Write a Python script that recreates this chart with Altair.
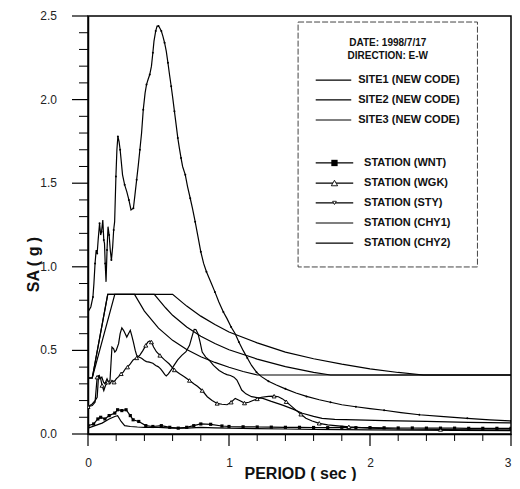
import altair as alt
import pandas as pd

# ---------------- data ----------------
# design spectra (new code)
T_SITE1 = [0, 0.03, 0.14, 0.33, 0.4, 0.5, 0.6, 0.7, 0.8, 0.9, 1.0, 1.1, 1.2, 3.0]
SA_SITE1 = [0.335, 0.335, 0.835, 0.835, 0.735, 0.633, 0.56, 0.505, 0.462, 0.428, 0.399, 0.374, 0.353, 0.353]
T_SITE2 = [0, 0.03, 0.19, 0.47, 0.55, 0.6, 0.7, 0.8, 0.9, 1.0, 1.2, 1.4, 1.6, 1.72, 3.0]
SA_SITE2 = [0.335, 0.335, 0.835, 0.835, 0.755, 0.71, 0.64, 0.585, 0.541, 0.504, 0.448, 0.403, 0.369, 0.353, 0.353]
T_SITE3 = [0, 0.03, 0.14, 0.6, 0.7, 0.8, 0.9, 1.0, 1.2, 1.4, 1.6, 1.8, 2.0, 2.2, 2.38, 3.0]
SA_SITE3 = [0.335, 0.335, 0.835, 0.835, 0.765, 0.705, 0.655, 0.61, 0.545, 0.49, 0.45, 0.418, 0.39, 0.368, 0.353, 0.353]

# recorded spectra
T_CHY1 = [0, 0.02, 0.035, 0.042, 0.05, 0.058, 0.065, 0.072, 0.082, 0.09, 0.096, 0.105, 0.112,
          0.117, 0.122, 0.128, 0.135, 0.142, 0.15, 0.158, 0.166, 0.175, 0.182, 0.189, 0.198,
          0.205, 0.212, 0.22, 0.228, 0.245, 0.26, 0.275, 0.29, 0.305, 0.322, 0.333, 0.345,
          0.357, 0.368, 0.38, 0.392, 0.405, 0.415, 0.426, 0.438, 0.45, 0.46, 0.468, 0.48, 0.49,
          0.5, 0.508, 0.52, 0.531, 0.543, 0.555, 0.567, 0.578, 0.59, 0.601, 0.613, 0.625, 0.637,
          0.648, 0.66, 0.671, 0.69, 0.706, 0.725, 0.741, 0.76, 0.78, 0.8, 0.82, 0.84, 0.87, 0.9,
          0.928, 0.96, 0.986, 1.015, 1.044, 1.07, 1.1, 1.13, 1.16, 1.195, 1.23, 1.28, 1.336,
          1.4, 1.475, 1.55, 1.64, 1.72, 1.8, 1.9, 2.0, 2.1, 2.22, 2.35, 2.5, 2.69, 2.85, 3.0]
SA_CHY1 = [0.73, 0.76, 0.82, 0.9, 1.02, 1.1, 1.08, 1.16, 1.26, 1.19, 1.21, 1.28, 1.16,
           1.14, 1.02, 0.91, 1.1, 1.24, 1.19, 1.1, 1.04, 1.12, 1.22, 1.27, 1.54,
           1.7, 1.78, 1.75, 1.7, 1.55, 1.49, 1.45, 1.4, 1.34, 1.35, 1.43, 1.52,
           1.61, 1.7, 1.8, 1.94, 2.04, 2.09, 2.12, 2.15, 2.2, 2.28, 2.35, 2.41, 2.44,
           2.44, 2.43, 2.41, 2.38, 2.34, 2.29, 2.22, 2.15, 2.08, 2.01, 1.93, 1.85, 1.77,
           1.71, 1.65, 1.6, 1.55, 1.48, 1.41, 1.35, 1.27, 1.18, 1.09, 1.02, 0.97, 0.91, 0.85,
           0.79, 0.73, 0.69, 0.64, 0.6, 0.55, 0.5, 0.455, 0.41, 0.37, 0.343, 0.315, 0.293,
           0.27, 0.245, 0.225, 0.205, 0.19, 0.175, 0.163, 0.152, 0.142, 0.128, 0.115, 0.105, 0.094, 0.085, 0.078]

T_CHY2 = [0, 0.03, 0.05, 0.065, 0.075, 0.085, 0.098, 0.11, 0.12, 0.135, 0.145, 0.156, 0.165,
          0.17, 0.182, 0.19, 0.2, 0.217, 0.228, 0.24, 0.252, 0.264, 0.275, 0.287, 0.3, 0.31,
          0.322, 0.335, 0.345, 0.36, 0.38, 0.4, 0.415, 0.435, 0.46, 0.48, 0.497, 0.515, 0.53,
          0.545, 0.555, 0.57, 0.59, 0.61, 0.636, 0.665, 0.695, 0.72, 0.74, 0.753, 0.765, 0.78,
          0.795, 0.81, 0.835, 0.858, 0.89, 0.93, 0.963, 0.985, 1.01, 1.035, 1.056, 1.075, 1.09,
          1.12, 1.16, 1.2, 1.24, 1.3, 1.38, 1.45, 1.52, 1.6, 1.66, 1.75, 1.9, 2.1, 2.4, 2.7, 3.0]
SA_CHY2 = [0.163, 0.18, 0.2, 0.22, 0.35, 0.33, 0.34, 0.31, 0.3, 0.33, 0.31, 0.32, 0.45,
           0.52, 0.51, 0.49, 0.5, 0.54, 0.6, 0.635, 0.62, 0.6, 0.58, 0.6, 0.62, 0.59,
           0.55, 0.5, 0.472, 0.46, 0.453, 0.44, 0.433, 0.43, 0.423, 0.41, 0.403, 0.39, 0.373,
           0.355, 0.347, 0.36, 0.383, 0.41, 0.443, 0.47, 0.492, 0.53, 0.59, 0.626, 0.625, 0.6,
           0.55, 0.49, 0.46, 0.443, 0.41, 0.38, 0.363, 0.355, 0.35, 0.34, 0.323, 0.29, 0.263,
           0.24, 0.223, 0.218, 0.213, 0.195, 0.173, 0.15, 0.124, 0.105, 0.094, 0.088, 0.084, 0.08, 0.075, 0.07, 0.066]

T_WGK = [0, 0.03, 0.05, 0.065, 0.08, 0.09, 0.1, 0.112, 0.124, 0.14, 0.155, 0.17, 0.185, 0.2,
         0.217, 0.235, 0.25, 0.265, 0.28, 0.3, 0.32, 0.345, 0.368, 0.39, 0.41, 0.425, 0.438,
         0.45, 0.465, 0.485, 0.51, 0.543, 0.575, 0.613, 0.65, 0.683, 0.72, 0.75, 0.776, 0.81,
         0.846, 0.88, 0.916, 0.95, 0.986, 1.015, 1.044, 1.075, 1.11, 1.14, 1.17, 1.2, 1.23,
         1.28, 1.32, 1.35, 1.38, 1.406, 1.44, 1.475, 1.51, 1.545, 1.59, 1.64, 1.7, 1.755, 1.85,
         2.0, 2.2, 2.5, 2.8, 3.0]
SA_WGK = [0.163, 0.17, 0.19, 0.34, 0.35, 0.33, 0.29, 0.26, 0.29, 0.31, 0.3, 0.32, 0.31, 0.33,
          0.343, 0.36, 0.37, 0.39, 0.4, 0.42, 0.443, 0.455, 0.472, 0.5, 0.53, 0.55, 0.556,
          0.55, 0.52, 0.492, 0.47, 0.443, 0.42, 0.383, 0.36, 0.343, 0.32, 0.3, 0.285, 0.26,
          0.223, 0.2, 0.183, 0.178, 0.175, 0.19, 0.213, 0.2, 0.185, 0.19, 0.2, 0.21, 0.22,
          0.225, 0.226, 0.223, 0.21, 0.193, 0.168, 0.143, 0.118, 0.094, 0.078, 0.064, 0.055, 0.05, 0.043,
          0.035, 0.03, 0.027, 0.025, 0.025]

T_WNT = [0, 0.04, 0.07, 0.09, 0.12, 0.15, 0.19, 0.21, 0.24, 0.27, 0.3, 0.32, 0.36, 0.41, 0.46,
         0.52, 0.58, 0.64, 0.7, 0.75, 0.8, 0.87, 0.95, 1.0, 1.1, 1.2, 1.3, 1.4, 1.5, 1.6, 1.7,
         1.8, 1.9, 2.0, 2.1, 2.2, 2.3, 2.4, 2.5, 2.6, 2.7, 2.8, 2.9, 3.0]
SA_WNT = [0.05, 0.06, 0.09, 0.1, 0.09, 0.11, 0.125, 0.145, 0.14, 0.145, 0.11, 0.085, 0.075, 0.05, 0.045,
          0.05, 0.04, 0.035, 0.04, 0.05, 0.06, 0.058, 0.048, 0.045, 0.043, 0.042, 0.041, 0.04, 0.04, 0.039, 0.038,
          0.04, 0.038, 0.038, 0.037, 0.036, 0.036, 0.035, 0.035, 0.035, 0.034, 0.034, 0.034, 0.034]

T_STY = [0, 0.05, 0.1, 0.15, 0.19, 0.21, 0.235, 0.26, 0.3, 0.35, 0.4, 0.5, 0.6, 0.7, 0.8, 0.9,
         1.0, 1.2, 1.4, 1.6, 1.8, 2.0, 2.3, 2.6, 3.0]
SA_STY = [0.035, 0.05, 0.065, 0.09, 0.105, 0.11, 0.075, 0.05, 0.045, 0.042, 0.04, 0.04, 0.035, 0.035, 0.04, 0.037,
          0.035, 0.032, 0.03, 0.028, 0.026, 0.025, 0.023, 0.022, 0.02]

X_MAJOR = [0, 1, 2, 3]
X_MINOR = [0.2, 0.4, 0.6, 0.8, 1.2, 1.4, 1.6, 1.8, 2.2, 2.4, 2.6, 2.8]
Y_MAJOR = [0, 0.5, 1, 1.5, 2, 2.5]
Y_MINOR = [0.1, 0.2, 0.3, 0.4, 0.6, 0.7, 0.8, 0.9, 1.1, 1.2, 1.3, 1.4, 1.6, 1.7, 1.8, 1.9,
           2.1, 2.2, 2.3, 2.4]

SITE_NAMES = ["SITE1 (NEW CODE)", "SITE2 (NEW CODE)", "SITE3 (NEW CODE)"]
STATION_NAMES = ["STATION (WNT)", "STATION (WGK)", "STATION (STY)", "STATION (CHY1)", "STATION (CHY2)"]
HEADER = ["DATE: 1998/7/17", "DIRECTION: E-W"]

# legend placement (in data units of the plot)
LEG_BOX = dict(T=1.49, T2=2.762, SA=0.999, SA2=2.464)
LEG_HEADER_X = 2.126
LEG_HEADER_Y = [2.338, 2.262]
LEG_SITE_Y = [2.117, 1.998, 1.878]
LEG_STATION_Y = [1.621, 1.501, 1.382, 1.262, 1.142]

# ---------------- build tables ----------------
series = [
    ("SITE1 (NEW CODE)", T_SITE1, SA_SITE1),
    ("SITE2 (NEW CODE)", T_SITE2, SA_SITE2),
    ("SITE3 (NEW CODE)", T_SITE3, SA_SITE3),
    ("STATION (CHY1)", T_CHY1, SA_CHY1),
    ("STATION (CHY2)", T_CHY2, SA_CHY2),
    ("STATION (WGK)", T_WGK, SA_WGK),
    ("STATION (WNT)", T_WNT, SA_WNT),
    ("STATION (STY)", T_STY, SA_STY),
]
rows = []
for name, ts, vs in series:
    for i, (t, v) in enumerate(zip(ts, vs)):
        rows.append({"series": name, "T": t, "SA": v, "i": i})
df = pd.DataFrame(rows)

FONT = "Liberation Sans"
W, H = 423, 418
xs = alt.Scale(domain=[0, 3], nice=False, zero=False)
ys = alt.Scale(domain=[0, 2.5], nice=False, zero=False)

common = dict(grid=False, ticks=False, domainColor="black", domainWidth=1.5,
              labelFont=FONT, labelFontSize=12, labelColor="#222", labelOverlap=False,
              labelFlush=False, titleFont=FONT, titleFontSize=16, titleFontWeight="bold",
              titleColor="#111")
x_axis = alt.Axis(values=X_MAJOR, format="d", labelPadding=23,
                  labelAlign={"condition": {"test": "datum.value >= 3", "value": "right"}, "value": "center"},
                  title="PERIOD ( sec )", titleX=212, titleY=44, titleBaseline="alphabetic",
                  **common)
y_axis = alt.Axis(values=Y_MAJOR, labels=False,
                  title="SA ( g )", titleX=-47, titleY=248, **common)

X = alt.X("T:Q", scale=xs, axis=x_axis)
Y = alt.Y("SA:Q", scale=ys, axis=y_axis)

base = alt.Chart(df)
lines = base.mark_line(color="black", strokeWidth=1.2, clip=True).encode(
    x=X, y=Y, detail="series:N")

wgk_pts = base.transform_filter(
    "datum.series == 'STATION (WGK)' && datum.i % 3 == 0"
).mark_point(shape="triangle-up", size=16, filled=True, fill="white", stroke="black",
             strokeWidth=0.9, opacity=1, clip=True).encode(x=X, y=Y)

wnt_pts = base.transform_filter("datum.series == 'STATION (WNT)'").mark_point(
    shape="square", size=10, filled=True, color="black", opacity=1, clip=True).encode(x=X, y=Y)

chy_pts = base.transform_filter(
    "datum.series == 'STATION (CHY1)' && datum.i % 2 == 0"
).mark_point(shape="circle", size=4, filled=True, color="black", opacity=1, clip=True).encode(x=X, y=Y)

# tick marks on both axes (major longer than minor)
xmaj = alt.Chart(pd.DataFrame({"T": X_MAJOR})).mark_rule(color="black", strokeWidth=1.2).encode(
    x=X, y=alt.value(H), y2=alt.value(H + 12))
xmin = alt.Chart(pd.DataFrame({"T": X_MINOR})).mark_rule(color="black", strokeWidth=1).encode(
    x=X, y=alt.value(H), y2=alt.value(H + 7))
ymaj = alt.Chart(pd.DataFrame({"SA": Y_MAJOR})).mark_rule(color="black", strokeWidth=1.2).encode(
    y=Y, x=alt.value(-16), x2=alt.value(0))
ymin = alt.Chart(pd.DataFrame({"SA": Y_MINOR})).mark_rule(color="black", strokeWidth=1).encode(
    y=Y, x=alt.value(-9), x2=alt.value(0))

# y tick labels
ylab = alt.Chart(pd.DataFrame({"SA": Y_MAJOR})).transform_calculate(
    lbl="format(datum.SA, '.1f')"
).mark_text(font=FONT, fontSize=12, color="#222", align="right", baseline="middle").encode(
    y=Y, x=alt.value(-31), text="lbl:N")

# legend
box = alt.Chart(pd.DataFrame([LEG_BOX])).mark_rect(
    fill="white", stroke="#444", strokeWidth=1, strokeDash=[6, 2]).encode(
    x=X, x2="T2:Q", y=Y, y2="SA2:Q")

hdr_df = pd.DataFrame({"label": HEADER, "T": [LEG_HEADER_X] * 2, "SA": LEG_HEADER_Y})
hdr = alt.Chart(hdr_df).mark_text(font=FONT, fontSize=10, fontWeight="bold", color="#111",
                                  align="center", baseline="middle").encode(x=X, y=Y, text="label:N")

leg_rows = []
for n, yv in zip(SITE_NAMES, LEG_SITE_Y):
    leg_rows.append({"label": n, "SA": yv, "T": 1.615, "T2": 1.867, "tx": 1.916, "xm": 1.741})
for n, yv in zip(STATION_NAMES, LEG_STATION_Y):
    leg_rows.append({"label": n, "SA": yv, "T": 1.615, "T2": 1.881, "tx": 1.958, "xm": 1.748})
leg_df = pd.DataFrame(leg_rows)

leg_lines = alt.Chart(leg_df).mark_rule(color="black", strokeWidth=1.2).encode(
    x=X, x2="T2:Q", y=Y)
leg_text = alt.Chart(leg_df).transform_calculate(T="datum.tx").mark_text(
    font=FONT, fontSize=11, fontWeight="bold", color="#111",
    align="left", baseline="middle").encode(x=X, y=Y, text="label:N")

leg_mk = alt.Chart(leg_df).transform_calculate(T="datum.xm")
leg_wnt = leg_mk.transform_filter("datum.label == 'STATION (WNT)'").mark_point(
    shape="square", size=40, filled=True, color="black", opacity=1).encode(x=X, y=Y)
leg_wgk = leg_mk.transform_filter("datum.label == 'STATION (WGK)'").mark_point(
    shape="triangle-up", size=40, filled=True, fill="white", stroke="black", strokeWidth=0.9,
    opacity=1).encode(x=X, y=Y)
leg_sty = leg_mk.transform_filter("datum.label == 'STATION (STY)'").mark_point(
    shape="triangle-down", size=14, filled=True, fill="white", stroke="black", strokeWidth=0.8,
    opacity=1).encode(x=X, y=Y)

chart = alt.layer(
    lines, wgk_pts, wnt_pts, chy_pts, xmaj, xmin, ymaj, ymin, ylab,
    box, hdr, leg_lines, leg_text, leg_wnt, leg_wgk, leg_sty
).properties(
    width=W, height=H, background="white",
    autosize=alt.AutoSizeParams(type="none"),
    padding={"left": 80, "top": 8, "right": 1, "bottom": 47},
).configure_view(
    stroke="black", strokeWidth=1.5
)

chart.save("out.html", embed_options={"renderer": "svg", "actions": False})
